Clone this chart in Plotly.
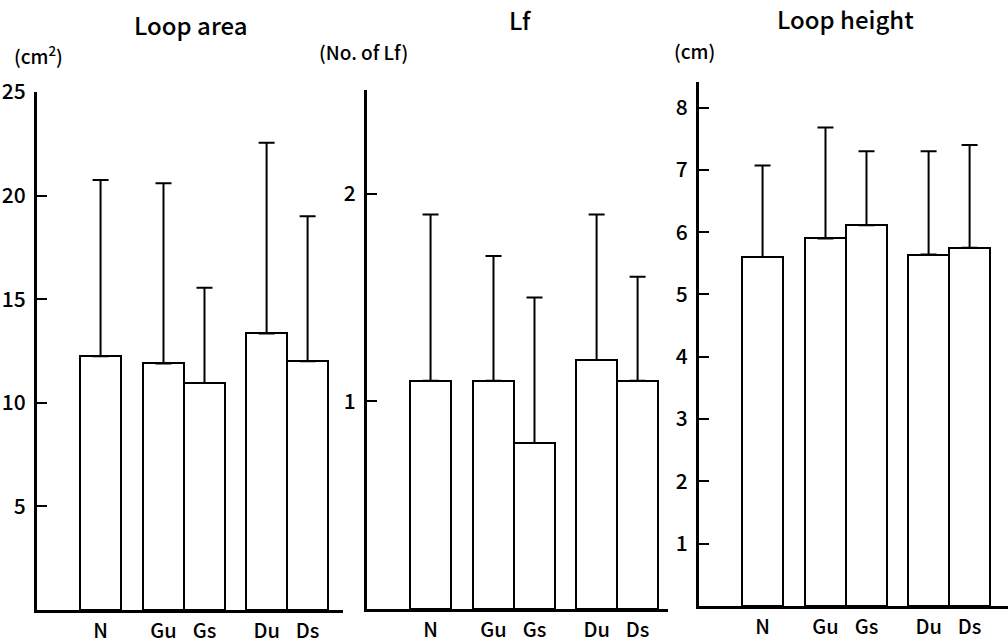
import plotly.graph_objects as go
from plotly.subplots import make_subplots

# ── data ──────────────────────────────────────────────────
groups = ["N", "Gu", "Gs", "Du", "Ds"]

area_mean = [12.25, 11.9, 10.95, 13.35, 12.0]
area_sd = [8.5, 8.7, 4.6, 9.2, 7.0]

lf_mean = [1.1, 1.1, 0.8, 1.2, 1.1]
lf_sd = [0.8, 0.6, 0.7, 0.7, 0.5]

height_mean = [5.6, 5.9, 6.11, 5.64, 5.75]
height_sd = [1.47, 1.78, 1.19, 1.66, 1.65]

# bar centres along the axis (N alone, then G pair, then D pair)
x_pos = [1.55, 3.085, 4.085, 5.6, 6.6]

W, H = 1008, 643
FONT = "Noto Sans CJK JP, Liberation Sans, Arial, sans-serif"
INK = "#000000"


def px_x(p):
    return p / W


def px_y(p):
    return 1 - p / H


fig = make_subplots(rows=1, cols=3)

panels = [
    # (means, sds, y range, ticks, x px left, x px right, base px, top px)
    (area_mean, area_sd, [0, 25], [5, 10, 15, 20, 25], 37, 343, 610, 92),
    (lf_mean, lf_sd, [0, 2.5], [1, 2], 367, 668, 609, 90),
    (height_mean, height_sd, [0, 8.41], [1, 2, 3, 4, 5, 6, 7, 8], 699, 1008, 606, 82),
]

for i, (m, s, yr, yt, xl, xr, base, top) in enumerate(panels, start=1):
    fig.add_trace(go.Bar(
        x=x_pos,
        y=m,
        width=1.0,
        marker=dict(color="white", line=dict(color=INK, width=2)),
        error_y=dict(
            type="data",
            symmetric=False,
            array=s,
            arrayminus=[0] * len(s),
            color=INK,
            thickness=2,
            width=8,
        ),
        hoverinfo="skip",
    ), row=1, col=i)

    span = (xr - xl) / 41.0
    fig.update_xaxes(
        domain=[px_x(xl), px_x(xr)],
        range=[0, span],
        tickvals=x_pos,
        ticktext=groups,
        ticks="",
        showline=True,
        linecolor=INK,
        linewidth=3,
        showgrid=False,
        zeroline=False,
        automargin=False,
        tickfont=dict(family=FONT, size=20, color=INK, weight=500),
        ticklabelstandoff=1,
        row=1, col=i,
    )
    fig.update_yaxes(
        domain=[px_y(base), px_y(top)],
        range=yr,
        tickvals=yt,
        ticks="inside",
        ticklen=10,
        tickwidth=2,
        tickcolor=INK,
        showline=True,
        linecolor=INK,
        linewidth=3,
        showgrid=False,
        zeroline=False,
        automargin=False,
        tickfont=dict(family=FONT, size=21, color=INK, weight=500),
        ticklabelstandoff=4,
        row=1, col=i,
    )

labels = [
    ("Loop area", 190, 24, 24),
    ("Lf", 520, 20, 24),
    ("Loop height", 845, 19, 24),
    ("(cm<sup>2</sup>)", 38, 55, 19),
    ("(No. of Lf)", 363, 52, 19),
    ("(cm)", 694, 51, 19),
]
for text, x, y, size in labels:
    fig.add_annotation(
        text=text, x=px_x(x), y=px_y(y), xref="paper", yref="paper",
        xanchor="center", yanchor="middle", showarrow=False,
        font=dict(family=FONT, size=size, color=INK, weight=500),
    )

fig.update_layout(
    width=W,
    height=H,
    paper_bgcolor="white",
    plot_bgcolor="white",
    showlegend=False,
    margin=dict(l=0, r=0, t=0, b=0),
    bargap=0,
)

# page margin off so the 1008x643 figure fills the window exactly
fig.write_html(
    "out.html",
    config=dict(displayModeBar=False),
    post_script="document.body.style.margin='0';"
                "document.documentElement.style.overflow='hidden';",
)
